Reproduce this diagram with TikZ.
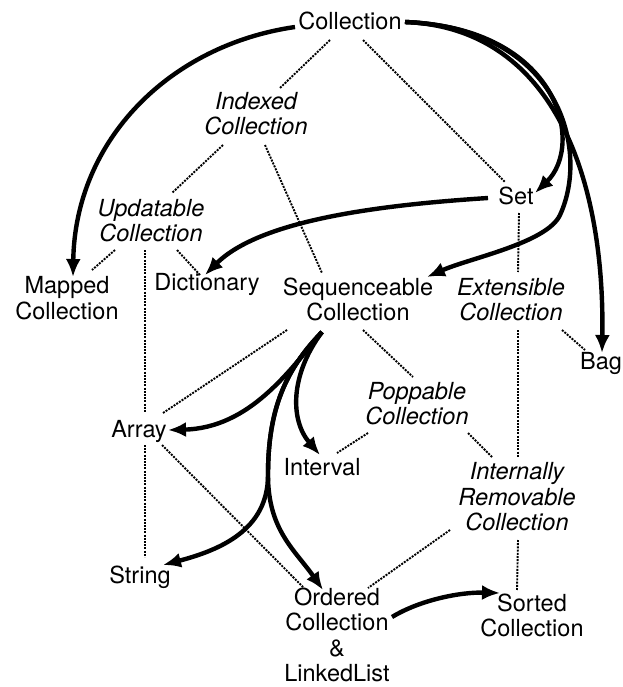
\documentclass[tikz,border=0pt]{standalone}
\usepackage{fontspec}
\setmainfont{TeX Gyre Heros}
\usetikzlibrary{arrows.meta,calc}
\begin{document}
\begin{tikzpicture}[x=1pt,y=-1pt,
  cls/.style={inner sep=0pt, align=center, font=\fontsize{23.5}{25.5}\selectfont},
  abstr/.style={inner sep=0pt, align=center, font=\fontsize{23.5}{25.5}\selectfont\itshape},
  dot/.style={line width=1.9pt, dash pattern=on 2pt off 1.2pt},
  inh/.style={line width=4.4pt, -{Latex[length=18pt,width=15pt]}},
]
\useasboundingbox (0,0) rectangle (622,687);
% nodes
\node[cls]   (coll)     at (350,21)    {Collection};
\node[abstr] (idx)      at (256,113.5) {Indexed\\Collection};
\node[abstr] (upd)      at (151,220.5) {Updatable\\Collection};
\node[cls]   (set)      at (516,196)   {Set};
\node[cls]   (mapped)   at (67,298)    {Mapped\\Collection};
\node[cls]   (dict)     at (207,284)   {Dictionary};
\node[cls]   (seq)      at (358,299.5) {Sequenceable\\Collection};
\node[abstr] (ext)      at (511,299.5) {Extensible\\Collection};
\node[cls]   (bag)      at (601,363)   {Bag};
\node[abstr] (pop)      at (417,403.5) {Poppable\\Collection};
\node[cls]   (array)    at (139,431)   {Array};
\node[cls]   (interval) at (322,467)   {Interval};
\node[abstr] (intr)     at (517,497)   {Internally\\Removable\\Collection};
\node[cls]   (string)   at (140,577)   {String};
\node[cls]   (ordered)  at (337,635)   {Ordered\\Collection\\\&\\LinkedList};
\node[cls]   (sorted)   at (532,615.5) {Sorted\\Collection};
% dotted connectors
\draw[dot] ($(coll)+(-20,19)$) -- ($(idx)+(24,-25.5)$);
\draw[dot] ($(coll)+(13,19)$) -- ($(set)+(-11,-14)$);
\draw[dot] ($(idx)+(-33,31.5)$) -- ($(upd)+(21,-27.5)$);
\draw[dot] ($(idx)+(9,31.5)$) -- ($(seq)+(-36,-26.5)$);
\draw[dot] ($(upd)+(-36,29.5)$) -- ($(mapped)+(25,-28)$);
\draw[dot] ($(upd)+(-6,29.5)$) -- ($(array)+(6,-18)$);
\draw[dot] ($(array)+(6,14)$) -- ($(string)+(5,-20)$);
\draw[dot] ($(upd)+(26,29.5)$) -- ($(dict)+(-7,-9)$);
\draw[dot] ($(set)+(3,17)$) -- ($(ext)+(7,-27.5)$);
\draw[dot] ($(seq)+(-71,30.5)$) -- ($(array)+(24,-18)$);
\draw[dot] ($(seq)+(5,30.5)$) -- ($(pop)+(-4,-26.5)$);
\draw[dot] ($(ext)+(7,30.5)$) -- ($(intr)+(1,-40)$);
\draw[dot] ($(ext)+(51,30.5)$) -- ($(bag)+(-16,-13)$);
\draw[dot] ($(pop)+(-49,29.5)$) -- ($(interval)+(15,-14)$);
\draw[dot] ($(pop)+(51,29.5)$) -- ($(intr)+(-25,-40)$);
\draw[dot] ($(array)+(23,14)$) -- ($(ordered)+(-34,-48)$);
\draw[dot] ($(intr)+(-67,33)$) -- ($(ordered)+(31,-47)$);
\draw[dot] ($(intr)+(1,43)$) -- ($(sorted)+(-15,-25.5)$);
% inheritance arrows
\draw[inh] ($(coll)+(-55,6)$) .. controls (170,45) and (75,140) .. ($(mapped)+(6,-21)$);
\draw[inh] ($(coll)+(55,1)$) .. controls (560,28) and (585,145) .. ($(set)+(19,-3)$);
\draw[inh] ($(coll)+(55,1)$) .. controls (560,28) and (590,150) .. (560,215)
           .. controls (547,243) and (470,258) .. ($(seq)+(69,-22.5)$);
\draw[inh] ($(coll)+(55,1)$) .. controls (560,28) and (605,190) .. ($(bag)+(1,-10)$);
\draw[inh] ($(set)+(-28,2)$) .. controls (380,205) and (260,220) .. ($(dict)+(-2,-9)$);
\draw[inh] ($(seq)+(-36,32.5)$) .. controls (290,370) and (250,428) .. ($(array)+(29,-1)$);
\draw[inh] ($(seq)+(-36,32.5)$) .. controls (290,375) and (290,420) .. ($(interval)+(-2,-12)$);
\draw[inh] ($(seq)+(-36,32.5)$) .. controls (285,370) and (268,410) .. (268,475)
           .. controls (268,530) and (220,550) .. ($(string)+(23,-12)$);
\draw[inh] ($(seq)+(-36,32.5)$) .. controls (285,370) and (268,410) .. (268,475)
           .. controls (268,530) and (295,550) .. ($(ordered)+(-14,-45)$);
\draw[inh] ($(ordered)+(55,-18)$) .. controls (420,600) and (460,592) .. ($(sorted)+(-32,-22.5)$);
\end{tikzpicture}
\end{document}
